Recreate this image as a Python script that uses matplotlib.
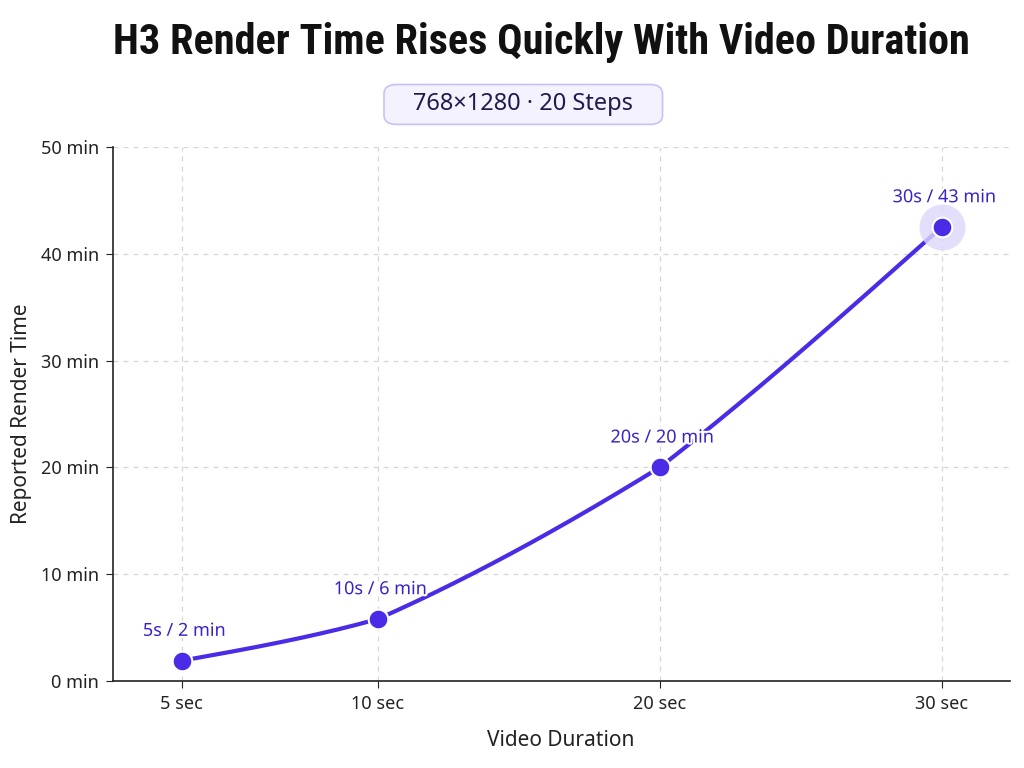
import numpy as np
import matplotlib
matplotlib.use("Agg")
import matplotlib.pyplot as plt
import matplotlib.patheffects as pe
from matplotlib import font_manager as fm
from matplotlib.patches import FancyBboxPatch

# data
durations = [5, 10, 20, 30]
duration_labels = ["5 sec", "10 sec", "20 sec", "30 sec"]
render_min = [1.9, 5.8, 20.0, 42.5]
point_labels = ["5s / 2 min", "10s / 6 min", "20s / 20 min", "30s / 43 min"]
y_ticks = [0, 10, 20, 30, 40, 50]

LINE = "#4B2BE6"
TXT = "#3A22C8"


def pick(families, weight=400):
    have = {}
    for f in fm.fontManager.ttflist:
        w = f.weight if isinstance(f.weight, int) else 700 if "bold" in str(f.weight) else 400
        have.setdefault(f.name, set()).add(w)
    for fam in families:
        if fam in have and any(abs(w - weight) <= 100 for w in have[fam]):
            return fam
    return "DejaVu Sans"


body_font = pick(["Noto Sans", "Open Sans", "DejaVu Sans"])
title_font = pick(["Roboto Condensed", "Open Sans Condensed", "DejaVu Sans Condensed",
                   "Liberation Sans Narrow", "Roboto", "Inter", "Lato", "DejaVu Sans"], 700)
plt.rcParams['font.family'] = [body_font, 'DejaVu Sans']


def xmap(d):
    # uneven spacing used by the original axis
    return np.interp(d, [5, 10, 20, 30], [0.0, 0.695, 1.695, 2.695])


def smooth(x, y, n=60, bend=0.5):
    # monotone cubic (like d3.curveMonotoneX), softened toward straight segments
    x = np.asarray(x, float)
    y = np.asarray(y, float)
    h = np.diff(x)
    s = np.diff(y) / h
    m = np.zeros_like(y)
    for k in range(1, len(x) - 1):
        p = (s[k - 1] * h[k] + s[k] * h[k - 1]) / (h[k - 1] + h[k])
        m[k] = (np.sign(s[k - 1]) + np.sign(s[k])) * min(abs(s[k - 1]), abs(s[k]), 0.5 * abs(p))
    m[0] = (3 * s[0] - m[1]) / 2
    m[-1] = (3 * s[-1] - m[-2]) / 2
    xs, ys = [], []
    for k in range(len(x) - 1):
        t = np.linspace(0, 1, n)
        h00 = 2 * t**3 - 3 * t**2 + 1
        h10 = t**3 - 2 * t**2 + t
        h01 = -2 * t**3 + 3 * t**2
        h11 = t**3 - t**2
        curve = h00 * y[k] + h10 * h[k] * m[k] + h01 * y[k + 1] + h11 * h[k] * m[k + 1]
        line = y[k] + t * (y[k + 1] - y[k])
        xs.append(x[k] + t * h[k])
        ys.append(line + bend * (curve - line))
    return np.concatenate(xs), np.concatenate(ys)


xp = xmap(durations)

fig = plt.figure(figsize=(10.24, 7.68), dpi=100)
fig.patch.set_facecolor("white")
ax = fig.add_axes([0.110, 0.1133, 0.876, 0.6953])

ax.grid(True, linestyle=(0, (4, 4)), color="#d6d6d6", linewidth=0.9)
ax.set_axisbelow(True)

sx, sy = smooth(xp, render_min)
ax.plot(sx, sy, color=LINE, linewidth=3.0, solid_capstyle="round", zorder=3)
ax.scatter(xp[-1:], render_min[-1:], s=1100, color="#dcd8fb", alpha=0.8, zorder=3.5, linewidths=0)
ax.scatter(xp, render_min, s=200, color=LINE, edgecolors="white", linewidths=1.5, zorder=4)

for x, y, lab in zip(xp, render_min, point_labels):
    ax.annotate(lab, (x, y), xytext=(2, 15), textcoords="offset points",
                ha="center", va="bottom", fontsize=13, color=TXT, zorder=5,
                path_effects=[pe.withStroke(linewidth=3, foreground="white")])

ax.set_xlim(-0.245, 2.936)
ax.set_ylim(0, 50)
ax.set_xticks(xp)
ax.set_xticklabels(duration_labels)
ax.set_yticks(y_ticks)
ax.set_yticklabels([f"{v} min" for v in y_ticks])
ax.tick_params(labelsize=13, colors="#222222", length=5, pad=5)
for s in ["top", "right"]:
    ax.spines[s].set_visible(False)
for s in ["left", "bottom"]:
    ax.spines[s].set_linewidth(1.2)
    ax.spines[s].set_color("#222222")

ax.set_xlabel("Video Duration", fontsize=15, color="#222222", labelpad=12)
ax.set_ylabel("Reported Render Time", fontsize=15, color="#222222", labelpad=6)

title = fig.text(0.529, 0.945, "H3 Render Time Rises Quickly With Video Duration",
                 ha="center", va="center", fontsize=29, fontweight="bold", color="#111111",
                 family=[title_font, "DejaVu Sans"])
# squeeze the title to the width it has in the original (about 855 px)
r = fig.canvas.get_renderer()
w = title.get_window_extent(r).width
title.set_fontsize(min(32, 29 * 855 / w))

box = FancyBboxPatch((0.375, 0.838), 0.272, 0.052, boxstyle="round,pad=0,rounding_size=0.012",
                     transform=fig.transFigure, facecolor="#f4f2fe", edgecolor="#c9c1f4",
                     linewidth=1.2)
fig.patches.append(box)
fig.text(0.511, 0.864, "768×1280 · 20 Steps", ha="center", va="center",
         fontsize=17, color="#1f1b4d")

fig.savefig("out.png", dpi=100)
